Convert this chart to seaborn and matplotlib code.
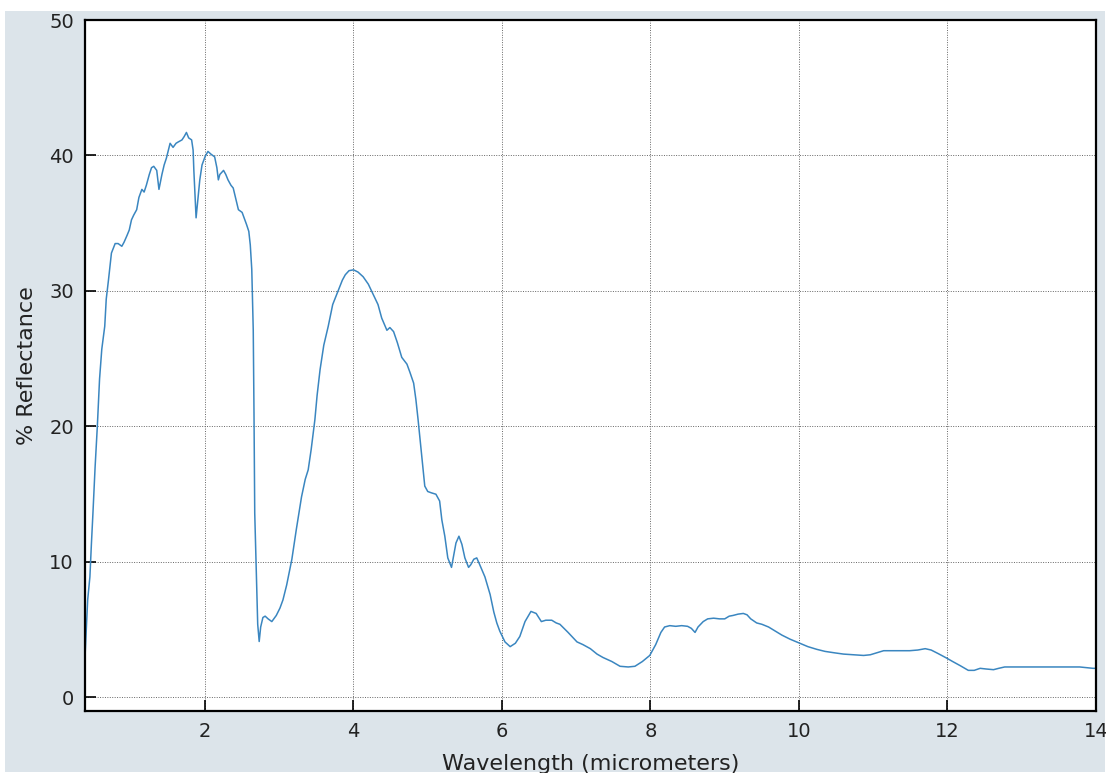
import matplotlib
matplotlib.use("Agg")
import matplotlib.pyplot as plt
import seaborn as sns
import pandas as pd
from matplotlib.patches import Rectangle

wavelength = [
    0.38, 0.40, 0.42, 0.45, 0.47, 0.49, 0.52, 0.55, 0.58, 0.61, 0.65, 0.67, 0.70, 0.74, 0.79,
    0.83, 0.88, 0.91, 0.95, 0.98, 1.01, 1.04, 1.08, 1.11, 1.15, 1.18, 1.21, 1.25, 1.28, 1.31,
    1.35, 1.38, 1.42, 1.45, 1.48, 1.53, 1.57, 1.61, 1.64, 1.69, 1.72, 1.75, 1.78, 1.82, 1.84,
    1.85, 1.88, 1.91, 1.93, 1.96, 2.00, 2.04, 2.08, 2.13, 2.16, 2.18, 2.20, 2.25, 2.28, 2.31,
    2.35, 2.38, 2.42, 2.45, 2.50, 2.56, 2.59, 2.61, 2.63, 2.65, 2.66, 2.67, 2.70, 2.71, 2.73,
    2.75, 2.78, 2.81, 2.85, 2.90, 2.96, 3.01, 3.05, 3.10, 3.17, 3.23, 3.30, 3.35, 3.39, 3.43,
    3.48, 3.51, 3.55, 3.60, 3.66, 3.72, 3.80, 3.85, 3.89, 3.94, 4.00, 4.06, 4.13, 4.20, 4.27,
    4.33, 4.38, 4.45, 4.49, 4.54, 4.59, 4.65, 4.72, 4.76, 4.81, 4.84, 4.87, 4.91, 4.96, 5.00,
    5.05, 5.11, 5.16, 5.19, 5.23, 5.27, 5.32, 5.35, 5.38, 5.42, 5.46, 5.50, 5.55, 5.58, 5.62,
    5.66, 5.70, 5.77, 5.84, 5.89, 5.93, 5.97, 6.04, 6.11, 6.18, 6.24, 6.31, 6.39, 6.46, 6.53,
    6.59, 6.67, 6.73, 6.78, 6.89, 7.01, 7.09, 7.19, 7.28, 7.36, 7.48, 7.59, 7.70, 7.79, 7.89,
    7.99, 8.07, 8.14, 8.19, 8.26, 8.34, 8.42, 8.50, 8.55, 8.60, 8.64, 8.71, 8.77, 8.85, 8.93,
    9.00, 9.06, 9.11, 9.18, 9.25, 9.30, 9.35, 9.43, 9.50, 9.59, 9.68, 9.77, 9.88, 10.01, 10.12,
    10.24, 10.35, 10.47, 10.60, 10.73, 10.87, 10.96, 11.05, 11.14, 11.27, 11.40, 11.49, 11.60, 11.70, 11.78,
    11.87, 11.99, 12.07, 12.17, 12.28, 12.36, 12.44, 12.52, 12.62, 12.69, 12.77, 12.91, 13.15, 13.38, 13.58,
    13.78, 13.96, 14.00,
]

reflectance = [
    2.5, 4.8, 7.2, 8.9, 11.3, 13.5, 17.0, 20.0, 23.5, 25.7, 27.4, 29.4, 30.8, 32.8, 33.5,
    33.5, 33.3, 33.6, 34.1, 34.5, 35.25, 35.6, 36.0, 36.9, 37.5, 37.3, 37.8, 38.6, 39.1, 39.2,
    38.9, 37.5, 38.6, 39.3, 39.8, 40.9, 40.6, 40.9, 41.0, 41.15, 41.4, 41.7, 41.3, 41.15, 40.4,
    38.9, 35.4, 37.1, 38.2, 39.3, 39.9, 40.3, 40.1, 39.9, 39.1, 38.2, 38.6, 38.9, 38.6, 38.2,
    37.8, 37.6, 36.7, 36.0, 35.8, 34.9, 34.4, 33.4, 31.6, 27.1, 21.0, 13.6, 7.45, 5.4, 4.13,
    5.2, 5.9, 6.0, 5.8, 5.6, 6.05, 6.6, 7.2, 8.3, 10.2, 12.4, 14.8, 16.1, 16.8, 18.3,
    20.5, 22.3, 24.2, 26.0, 27.4, 29.0, 30.1, 30.8, 31.2, 31.5, 31.56, 31.4, 31.05, 30.5, 29.7,
    29.0, 28.0, 27.1, 27.3, 27.0, 26.2, 25.1, 24.6, 24.0, 23.2, 22.0, 20.5, 18.3, 15.6, 15.2,
    15.1, 15.0, 14.5, 13.1, 11.9, 10.3, 9.6, 10.5, 11.4, 11.9, 11.3, 10.3, 9.6, 9.8, 10.2,
    10.3, 9.8, 8.9, 7.6, 6.3, 5.5, 4.9, 4.1, 3.75, 4.0, 4.5, 5.6, 6.35, 6.2, 5.6,
    5.7, 5.7, 5.5, 5.4, 4.8, 4.1, 3.9, 3.6, 3.2, 2.95, 2.65, 2.3, 2.25, 2.3, 2.65,
    3.1, 3.9, 4.8, 5.2, 5.3, 5.25, 5.3, 5.25, 5.1, 4.8, 5.2, 5.6, 5.8, 5.85, 5.8,
    5.8, 6.0, 6.05, 6.15, 6.2, 6.1, 5.8, 5.5, 5.4, 5.2, 4.9, 4.6, 4.3, 4.0, 3.75,
    3.55, 3.4, 3.3, 3.2, 3.15, 3.1, 3.15, 3.3, 3.45, 3.45, 3.45, 3.45, 3.5, 3.6, 3.5,
    3.25, 2.9, 2.65, 2.35, 2.0, 2.0, 2.15, 2.1, 2.05, 2.15, 2.25, 2.25, 2.25, 2.25, 2.25,
    2.25, 2.15, 2.15,
]

x_ticks = [2, 4, 6, 8, 10, 12, 14]
y_ticks = [0, 10, 20, 30, 40, 50]
x_label = "Wavelength (micrometers)"
y_label = "% Reflectance"

sns.set_style("white")
plt.rcParams["font.family"] = ["DejaVu Sans"]

df = pd.DataFrame({"wavelength": wavelength, "reflectance": reflectance})

fig = plt.figure(figsize=(11.06, 7.73), dpi=100, facecolor="white")
fig.patches.append(Rectangle((5 / 1106, 1.5 / 773), 1100 / 1106, (773 - 12) / 773,
                             transform=fig.transFigure, facecolor="#dce4ea",
                             edgecolor="none", zorder=-10))
ax = fig.add_axes([85 / 1106, 1 - 711 / 773, (1096 - 85) / 1106, (711 - 20) / 773])
ax.set_facecolor("white")

sns.lineplot(data=df, x="wavelength", y="reflectance", ax=ax, estimator=None,
             sort=False, color="#3a86c0", linewidth=1.1)

ax.set_xlim(0.384, 14)
ax.set_ylim(-1, 50)
ax.set_xticks(x_ticks)
ax.set_yticks(y_ticks)
ax.grid(True, linestyle=(0, (1, 1.5)), color="#666666", linewidth=0.7)
ax.set_axisbelow(True)
for s in ax.spines.values():
    s.set_visible(True)
    s.set_color("black")
    s.set_linewidth(1.6)
ax.tick_params(axis="both", direction="in", length=8, width=1.2, labelsize=14,
               colors="black", labelcolor="#222222", pad=8, bottom=True, left=True,
               top=False, right=False)
ax.set_xlabel(x_label, fontsize=16, color="#222222", labelpad=9)
ax.set_ylabel(y_label, fontsize=16, color="#222222", labelpad=9)

fig.savefig("out.png", dpi=100, facecolor=fig.get_facecolor())
